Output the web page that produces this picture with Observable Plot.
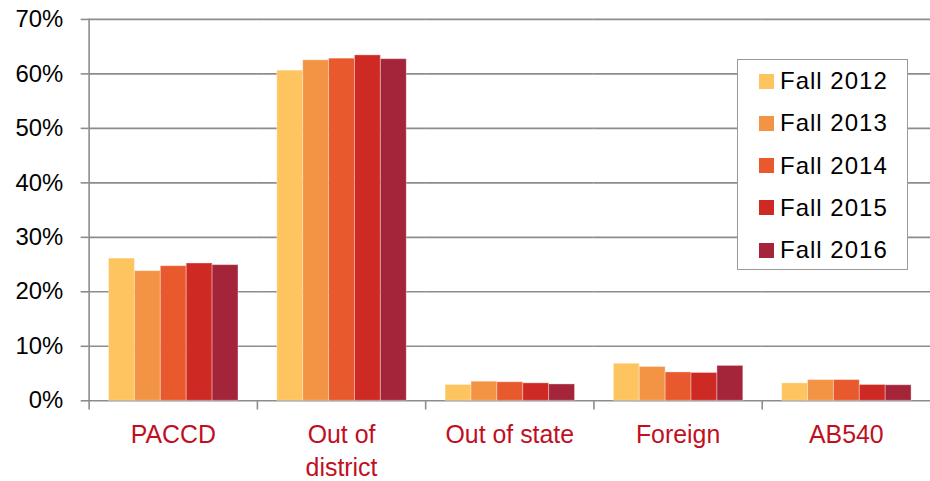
<!DOCTYPE html>
<html>
<head>
<meta charset="utf-8">
<script src="https://cdn.jsdelivr.net/npm/d3@7"></script>
<script src="https://cdn.jsdelivr.net/npm/@observablehq/plot@0.6"></script>
<style>
  html, body { margin: 0; padding: 0; background: #fff; overflow: hidden; }
  #wrap { position: relative; width: 930px; height: 481px; font-family: "Liberation Sans", Arial, sans-serif; }
  #legend { position: absolute; left: 737px; top: 59px; width: 169px; height: 209px; background: #fff; border: 1.5px solid #9a9a9a; box-sizing: content-box; }
  #legend .row { position: absolute; left: 21px; height: 30px; display: flex; align-items: center; font-size: 24px; letter-spacing: 1px; color: #000; }
  #legend .sw { width: 15px; height: 15px; margin-right: 6px; }
</style>
</head>
<body>
<div id="wrap"></div>
<script>
const categories = ["PACCD", "Out of\ndistrict", "Out of state", "Foreign", "AB540"];
const years = ["Fall 2012", "Fall 2013", "Fall 2014", "Fall 2015", "Fall 2016"];
const colors = ["#fec45f", "#f39445", "#e8592d", "#ce2a23", "#a4253a"];
const fall2012 = [26.1, 60.6, 2.9, 6.8, 3.2];
const fall2013 = [23.8, 62.5, 3.5, 6.2, 3.8];
const fall2014 = [24.7, 62.8, 3.4, 5.2, 3.8];
const fall2015 = [25.2, 63.4, 3.2, 5.1, 2.9];
const fall2016 = [24.9, 62.7, 3.0, 6.4, 2.85];
const yTicks = [0, 10, 20, 30, 40, 50, 60, 70];

const series = [fall2012, fall2013, fall2014, fall2015, fall2016];
const data = [];
categories.forEach((c, i) => years.forEach((y, j) => data.push({category: c, year: y, value: series[j][i]})));

const gray = "#8c8c8c";
const chart = Plot.plot({
  width: 934,
  height: 481,
  marginTop: 19,
  marginBottom: 79,
  marginLeft: 88,
  marginRight: 0,
  style: {fontFamily: "'Liberation Sans', Arial, sans-serif", fontSize: "24px", color: "#000", overflow: "visible"},
  fx: {domain: categories, padding: 0, label: null},
  x: {domain: years, paddingInner: 0, paddingOuter: 0.75, axis: null},
  y: {domain: [0, 70], label: null},
  color: {domain: years, range: colors},
  marks: [
    Plot.gridY(yTicks, {stroke: gray, strokeOpacity: 1, strokeWidth: 1.6}),
    Plot.frame({anchor: "left", stroke: gray, strokeWidth: 1.6, insetTop: 383, insetBottom: -8}),
    Plot.frame({anchor: "left", facetAnchor: "left", stroke: gray, strokeWidth: 1.6}),
    Plot.barY(data, {fx: "category", x: "year", y: "value", fill: "year", stroke: "#fff", strokeOpacity: 0.35, strokeWidth: 1}),
    Plot.axisY(yTicks, {tickSize: 8, tickPadding: 18, tickFormat: d => d + "%", stroke: gray, strokeWidth: 1.6, fontSize: 24, fill: "#000"}),
    Plot.axisFx({anchor: "bottom", tickSize: 0, tickPadding: 19, fontSize: 25, fill: "#c0101f", lineHeight: 1.32, label: null, style: {letterSpacing: "0.3px"}})
  ]
});
const wrap = document.getElementById("wrap");
wrap.appendChild(chart);

const legend = document.createElement("div");
legend.id = "legend";
years.forEach((y, i) => {
  const row = document.createElement("div");
  row.className = "row";
  row.style.top = (6 + i * 42.25) + "px";
  const sw = document.createElement("span");
  sw.className = "sw";
  sw.style.background = colors[i];
  const t = document.createElement("span");
  t.textContent = y;
  row.appendChild(sw);
  row.appendChild(t);
  legend.appendChild(row);
});
wrap.appendChild(legend);
</script>
</body>
</html>
